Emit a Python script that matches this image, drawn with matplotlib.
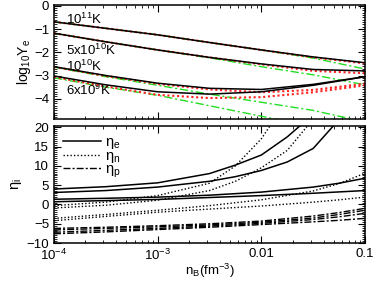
import numpy as np
import matplotlib
matplotlib.use('Agg')
import matplotlib.pyplot as plt
from matplotlib.ticker import LogLocator, MultipleLocator, FixedLocator, FixedFormatter, NullFormatter

plt.rcParams['font.family'] = ['Liberation Sans', 'DejaVu Sans']
plt.rcParams['mathtext.fontset'] = 'custom'
plt.rcParams['mathtext.rm'] = 'Liberation Sans'
plt.rcParams['mathtext.it'] = 'Liberation Sans'

# ---- top panel: log10 Ye vs nB, 4 temperatures x 3 models
nb = np.array([1e-4, 10**-3.5, 1e-3, 10**-2.5, 1e-2, 10**-1.5, 1e-1])

ye_1e11_black = [-0.69, -0.97, -1.25, -1.58, -1.90, -2.20, -2.45]
ye_1e11_red   = [-0.69, -0.97, -1.25, -1.58, -1.90, -2.22, -2.48]
ye_1e11_green = [-0.69, -0.97, -1.25, -1.58, -1.90, -2.25, -2.72]

ye_5e10_black = [-1.18, -1.55, -1.90, -2.22, -2.50, -2.74, -2.80]
ye_5e10_red   = [-1.18, -1.55, -1.90, -2.22, -2.52, -2.80, -2.90]
ye_5e10_green = [-1.18, -1.55, -1.90, -2.24, -2.62, -2.97, -3.40]

ye_1e10_black = [-2.62, -3.00, -3.33, -3.55, -3.60, -3.38, -3.05]
ye_1e10_red   = [-2.63, -3.02, -3.36, -3.60, -3.72, -3.62, -3.35]
ye_1e10_green = [-2.64, -3.05, -3.42, -3.80, -4.15, -4.50, -5.00]

ye_6e9_black  = [-3.02, -3.40, -3.70, -3.80, -3.70, -3.42, -3.05]
ye_6e9_red    = [-3.06, -3.47, -3.83, -3.97, -3.93, -3.72, -3.42]
ye_6e9_green  = [-3.10, -3.50, -3.85, -4.30, -4.75, -5.20, -5.60]

temp_labels = [r'10$^{11}$K', r'5x10$^{10}$K', r'10$^{10}$K', r'6x10$^{9}$K']
temp_label_y = [-0.57, -1.90, -2.60, -3.62]

# ---- bottom panel: degeneracy parameters
nb2 = np.array([1e-4, 10**-3.5, 1e-3, 10**-2.5, 1e-2, 10**-1.5, 10**-1.25, 1e-1])

eta_e = [
    ([1e-4, 10**-3.5, 1e-3, 10**-2.5, 10**-2.25, 1e-2, 10**-1.75, 10**-1.6],
     [4.0, 4.6, 5.6, 8.0, 10.2, 12.8, 17.5, 21.0]),
    ([1e-4, 10**-3.5, 1e-3, 10**-2.5, 10**-2.25, 1e-2, 10**-1.75, 10**-1.5, 10**-1.3],
     [3.1, 3.6, 4.5, 6.0, 7.2, 8.8, 11.0, 14.5, 20.5]),
    (nb2, [1.35, 1.6, 1.9, 2.4, 3.2, 4.5, 5.5, 6.8]),
    (nb2, [0.7, 1.0, 1.3, 1.8, 2.3, 2.9, 3.25, 3.6]),
]
eta_n = [
    ([1e-4, 10**-3.5, 1e-3, 10**-2.5, 10**-2.25, 1e-2, 10**-1.9],
     [-0.3, 0.6, 2.3, 5.5, 10.0, 17.0, 21.0]),
    ([1e-4, 10**-3.5, 1e-3, 10**-2.5, 10**-2.25, 1e-2, 10**-1.75, 10**-1.55],
     [-0.9, -0.2, 1.1, 3.6, 6.0, 9.5, 14.0, 20.5]),
    (nb2, [-3.6, -2.6, -1.5, -0.3, 1.2, 3.5, 5.4, 8.1]),
    (nb2, [-4.2, -3.1, -2.0, -1.2, -0.4, 0.6, 1.2, 1.9]),
]
eta_p = [
    (nb2, [-6.2, -5.9, -5.5, -5.0, -4.3, -3.0, -2.1, -1.0]),
    (nb2, [-6.6, -6.2, -5.8, -5.3, -4.6, -3.5, -2.6, -1.5]),
    (nb2, [-7.2, -6.7, -6.2, -5.6, -4.9, -3.9, -3.2, -2.3]),
    (nb2, [-7.6, -7.1, -6.5, -5.9, -5.2, -4.5, -4.1, -3.6]),
]

fig = plt.figure(figsize=(3.74, 2.82), dpi=100)
ax1 = fig.add_axes([0.1444, 0.578, 0.8316, 0.404])
ax2 = fig.add_axes([0.1444, 0.138, 0.8316, 0.415])

groups = [
    (ye_1e11_black, ye_1e11_red, ye_1e11_green),
    (ye_5e10_black, ye_5e10_red, ye_5e10_green),
    (ye_1e10_black, ye_1e10_red, ye_1e10_green),
    (ye_6e9_black, ye_6e9_red, ye_6e9_green),
]
for blk, red, grn in groups:
    ax1.plot(nb, grn, color='#22dd22', ls=(0, (6, 2, 1.5, 2)), lw=1.0)
    ax1.plot(nb, red, color='#ff2020', ls=(0, (1, 1.3)), lw=1.5)
    ax1.plot(nb, blk, color='black', lw=1.1)

for lab, yy in zip(temp_labels, temp_label_y):
    ax1.text(1.3e-4, yy, lab, fontsize=9.5, va='center', ha='left')

ax1.set_ylim(-4.87, 0.03)
ax1.set_ylabel(r'log$_{10}$Y$_e$', fontsize=10, labelpad=1)
ax1.yaxis.set_major_locator(MultipleLocator(1))
ax1.yaxis.set_minor_locator(MultipleLocator(0.1))

for x, y in eta_e:
    ax2.plot(x, y, color='black', lw=1.1)
for x, y in eta_n:
    ax2.plot(x, y, color='black', ls=(0, (1, 1.5)), lw=1.0)
for x, y in eta_p:
    ax2.plot(x, y, color='black', ls=(0, (5, 1.5, 1.5, 1.5)), lw=1.0)

h1, = ax2.plot([], [], color='black', lw=1.1)
h2, = ax2.plot([], [], color='black', ls=(0, (1, 1.5)), lw=1.0)
h3, = ax2.plot([], [], color='black', ls=(0, (5, 1.5, 1.5, 1.5)), lw=1.0)
ax2.legend([h1, h2, h3], [r'$\eta_e$', r'$\eta_n$', r'$\eta_p$'], loc='upper left',
           frameon=False, fontsize=10.5, handlelength=2.6, labelspacing=-0.15,
           borderaxespad=0.2, handletextpad=0.3)

ax2.set_ylim(-10, 20.3)
ax2.set_ylabel(r'$\eta_i$', fontsize=10.5, labelpad=2)
ax2.set_xlabel(r'n$_B$(fm$^{-3}$)', fontsize=9.5, labelpad=-1)
ax2.yaxis.set_major_locator(MultipleLocator(5))
ax2.yaxis.set_minor_locator(MultipleLocator(0.5))

for ax in (ax1, ax2):
    ax.set_xscale('log')
    ax.set_xlim(1e-4, 0.1)
    ax.xaxis.set_major_locator(FixedLocator([1e-4, 1e-3, 1e-2, 1e-1]))
    ax.xaxis.set_minor_locator(LogLocator(base=10, subs=np.arange(2, 10), numticks=20))
    ax.xaxis.set_minor_formatter(NullFormatter())
    ax.tick_params(which='both', direction='in', top=True, right=True, labelsize=9.5)
    ax.tick_params(which='major', length=5, width=0.8)
    ax.tick_params(which='minor', length=2.5, width=0.6)
    ax.tick_params(axis='x', pad=3.5)
    for s in ax.spines.values():
        s.set_linewidth(1.1)

ax1.xaxis.set_major_formatter(NullFormatter())
ax2.xaxis.set_major_formatter(FixedFormatter([r'10$^{-4}$', r'10$^{-3}$', '0.01', '0.1']))

fig.savefig('out.png', dpi=100)
